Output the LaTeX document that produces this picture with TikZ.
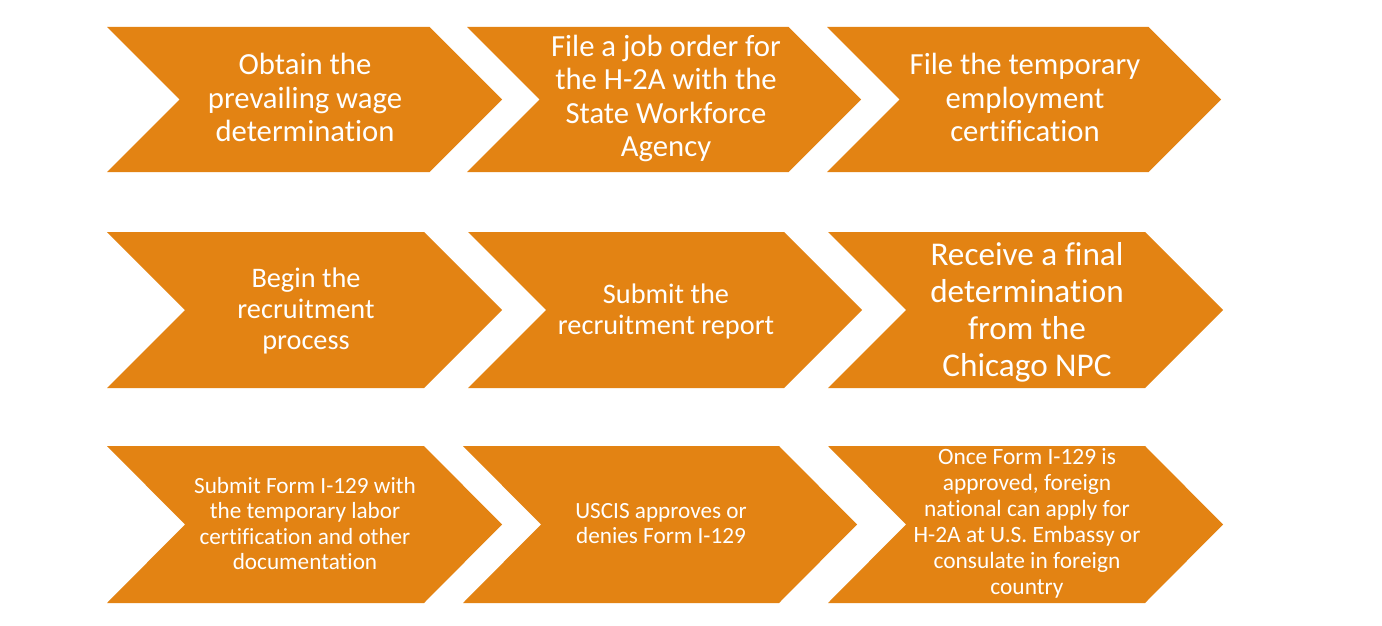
\documentclass[tikz,border=0pt]{standalone}
\usepackage{fontspec}
\setmainfont[Ligatures=CommonOff]{Carlito}
\definecolor{chevfill}{RGB}{227,131,19}
\newcommand\chevshape[5]{% left, top, bottom, width, depth
  \fill[chevfill] (#1,#2) -- ({#1+#4-#5},#2) -- ({#1+#4},{(#2+#3)/2}) -- ({#1+#4-#5},#3) -- (#1,#3) -- ({#1+#5},{(#2+#3)/2}) -- cycle;}
\tikzset{
  lbl/.style={text=white, align=center, inner sep=0pt},
  fA/.style={font=\fontsize{30.7}{33.5}\selectfont},
  fB/.style={font=\fontsize{28.3}{31}\selectfont},
  fC/.style={font=\fontsize{33.2}{37}\selectfont},
  fD/.style={font=\fontsize{23.2}{25.5}\selectfont},
}
\begin{document}
\begin{tikzpicture}[x=1pt,y=-1pt]
\useasboundingbox[fill=white] (0,0) rectangle (1382,626);
% row 1
\chevshape{107}{27}{172}{395}{72.5}
\chevshape{467}{27}{172}{394}{72.5}
\chevshape{827}{27}{172}{394}{72.5}
\node[lbl,fA] (r1a) at (305,97.5) {Obtain the\\prevailing wage\\determination};
\node[lbl,fA] (r1b) at (666,98.5) {File a job order for\\the H-2A with the\\State Workforce\\Agency};
\node[lbl,fA] (r1c) at (1025,97.5) {File the temporary\\employment\\certification};
% row 2
\chevshape{107}{232}{388}{395}{78}
\chevshape{468}{232}{388}{394}{78}
\chevshape{828}{232}{388}{395}{78}
\node[lbl,fB] (r2a) at (306,310.5) {Begin the\\recruitment\\process};
\node[lbl,fB] (r2b) at (666,311) {Submit the\\recruitment report};
\node[lbl,fC] (r2c) at (1027,312) {Receive a final\\determination\\from the\\Chicago NPC};
% row 3
\chevshape{107}{446}{603}{395}{78}
\chevshape{463}{446}{603}{394}{78}
\chevshape{828}{446}{603}{395}{78}
\node[lbl,fD] (r3a) at (305,523.5) {Submit Form I-129 with\\the temporary labor\\certification and other\\documentation};
\node[lbl,fD] (r3b) at (661,523.5) {USCIS approves or\\denies Form I-129};
\node[lbl,fD,font=\fontsize{23.4}{26}\selectfont] (r3c) at (1027,523.5) {Once Form I-129 is\\approved, foreign\\national can apply for\\H-2A at U.S. Embassy or\\consulate in foreign\\country};
\end{tikzpicture}
\end{document}
